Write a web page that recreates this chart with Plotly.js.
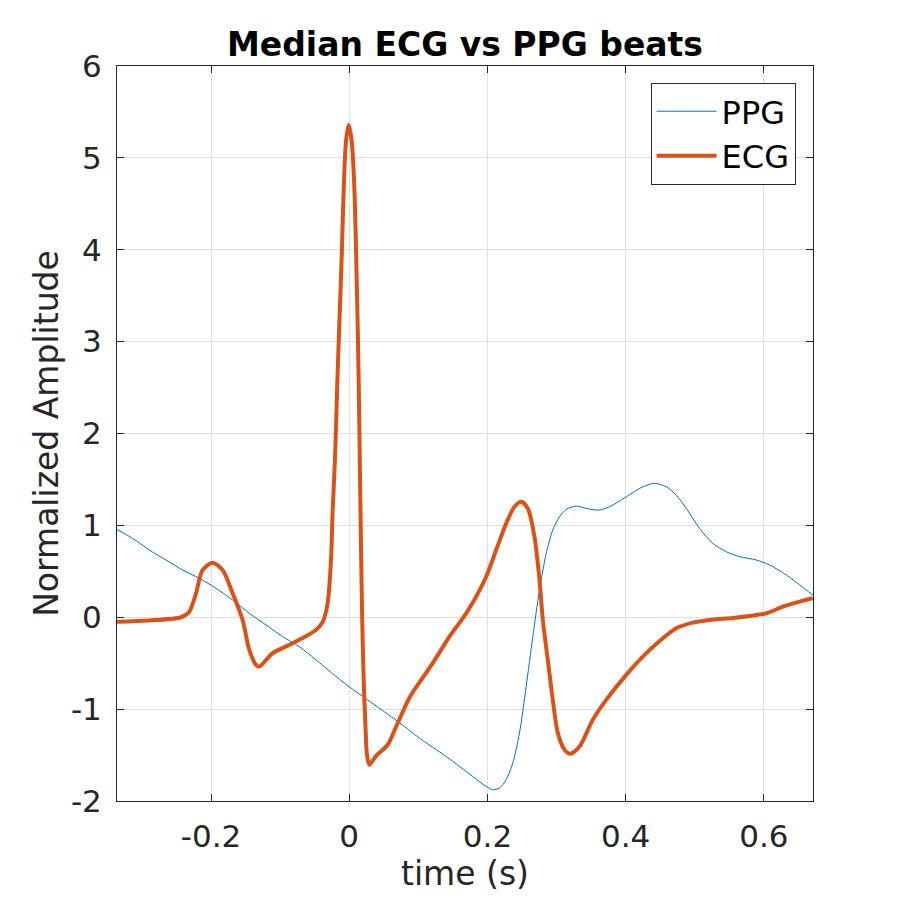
<!DOCTYPE html>
<html>
<head>
<meta charset="utf-8">
<script src="https://cdn.plot.ly/plotly-3.0.1.min.js"></script>
<style>html,body{margin:0;padding:0;background:#fff;}#chart{width:900px;height:900px;}</style>
</head>
<body>
<div id="chart"></div>
<script>
// PPG median beat
const ppgTime = [-0.3367,-0.3135,-0.2893,-0.2651,-0.2411,-0.2169,-0.1928,-0.1687,-0.1446,-0.1204,-0.0963,-0.0722,-0.0480,-0.0143,0.0002,0.0726,0.1016,0.1402,0.1787,0.1981,0.2077,0.2174,0.2271,0.2366,0.2463,0.2560,0.2656,0.2753,0.2850,0.2945,0.3042,0.3139,0.3284,0.3429,0.3597,0.3766,0.4008,0.4248,0.4418,0.4587,0.4732,0.4877,0.5069,0.5262,0.5456,0.5648,0.5890,0.6083,0.6324,0.6517,0.6709];
const ppgAmp  = [0.957,0.859,0.732,0.623,0.514,0.424,0.315,0.188,0.043,-0.084,-0.211,-0.320,-0.464,-0.674,-0.758,-1.147,-1.316,-1.515,-1.733,-1.841,-1.877,-1.859,-1.768,-1.587,-1.261,-0.754,-0.211,0.297,0.696,0.949,1.093,1.174,1.210,1.185,1.166,1.202,1.311,1.420,1.457,1.420,1.329,1.185,0.967,0.804,0.713,0.659,0.623,0.568,0.460,0.351,0.242];

// ECG median beat
const ecgTime = [-0.3364,-0.2893,-0.2434,-0.2314,-0.2217,-0.2122,-0.1977,-0.1832,-0.1687,-0.1543,-0.1446,-0.1349,-0.1301,-0.1108,-0.0819,-0.0480,-0.0384,-0.0312,-0.0263,-0.0240,-0.0205,-0.0176,-0.0143,-0.0109,-0.0080,-0.0046,-0.0008,0.0035,0.0075,0.0108,0.0137,0.0161,0.0186,0.0209,0.0234,0.0258,0.0292,0.0389,0.0557,0.0678,0.0871,0.0991,0.1208,0.1450,0.1692,0.1836,0.1981,0.2126,0.2271,0.2391,0.2488,0.2583,0.2680,0.2753,0.2801,0.2873,0.2945,0.3018,0.3115,0.3197,0.3332,0.3524,0.3718,0.4008,0.4298,0.4538,0.4732,0.4972,0.5214,0.5551,0.5793,0.6035,0.6275,0.6517,0.6709];
const ecgAmp  = [-0.048,-0.035,0.000,0.061,0.261,0.514,0.593,0.514,0.261,-0.029,-0.355,-0.518,-0.537,-0.391,-0.283,-0.138,-0.051,0.155,0.634,1.159,1.742,2.471,3.199,3.927,4.655,5.188,5.357,5.188,4.655,3.682,2.568,1.255,0.047,-0.682,-1.171,-1.508,-1.605,-1.508,-1.388,-1.192,-0.877,-0.736,-0.500,-0.211,0.043,0.224,0.441,0.732,1.022,1.202,1.257,1.185,0.876,0.405,-0.029,-0.464,-0.899,-1.261,-1.442,-1.486,-1.407,-1.116,-0.899,-0.627,-0.391,-0.228,-0.120,-0.059,-0.029,-0.008,0.014,0.043,0.115,0.170,0.207];

const xTickVals = [-0.2, 0, 0.2, 0.4, 0.6];
const xTickText = ['-0.2', '0', '0.2', '0.4', '0.6'];
const yTickVals = [-2, -1, 0, 1, 2, 3, 4, 5, 6];
const yTickText = ['-2', '-1', '0', '1', '2', '3', '4', '5', '6'];

const FONT = 'DejaVu Sans, sans-serif';
const AX = '#262626';

const traces = [
  {x: ppgTime, y: ppgAmp, name: 'PPG', type: 'scatter', mode: 'lines',
   line: {color: '#0072BD', width: 1, shape: 'spline', smoothing: 0.8}},
  {x: ecgTime, y: ecgAmp, name: 'ECG', type: 'scatter', mode: 'lines',
   line: {color: '#D95319', width: 4, shape: 'spline', smoothing: 0.8}}
];

const axisCommon = {
  showline: true, linecolor: AX, linewidth: 1, mirror: 'ticks',
  ticks: 'inside', ticklen: 7, tickcolor: AX, tickwidth: 1,
  showgrid: true, gridcolor: '#e0e0e0', gridwidth: 1,
  zeroline: false, tickfont: {family: FONT, size: 31, color: AX},
  tickmode: 'array'
};

const layout = {
  width: 900, height: 900,
  paper_bgcolor: '#fff', plot_bgcolor: '#fff',
  margin: {l: 117, r: 87, t: 66, b: 99},
  title: {text: '<b>Median ECG vs PPG beats</b>', font: {family: FONT, size: 33, color: '#000'},
          x: 0.5, xref: 'paper', y: 1 - 44/900, yref: 'container', yanchor: 'middle'},
  xaxis: Object.assign({}, axisCommon, {
    range: [-0.336, 0.671], tickvals: xTickVals, ticktext: xTickText,
    ticklabelstandoff: 8,
    title: {text: 'time (s)', font: {family: FONT, size: 33, color: AX}, standoff: 8}
  }),
  yaxis: Object.assign({}, axisCommon, {
    range: [-2, 6], tickvals: yTickVals, ticktext: yTickText,
    ticklabelstandoff: 8,
    title: {text: 'Normalized Amplitude', font: {family: FONT, size: 33, color: AX}, standoff: 2}
  }),
  showlegend: true,
  legend: {x: 0.975, y: 0.977, xanchor: 'right', yanchor: 'top',
           bgcolor: '#fff', bordercolor: AX, borderwidth: 1, itemwidth: 60,
           font: {family: FONT, size: 32, color: '#000'}, tracegroupgap: 0}
};

Plotly.newPlot('chart', traces, layout, {displayModeBar: false, staticPlot: true});
</script>
</body>
</html>
